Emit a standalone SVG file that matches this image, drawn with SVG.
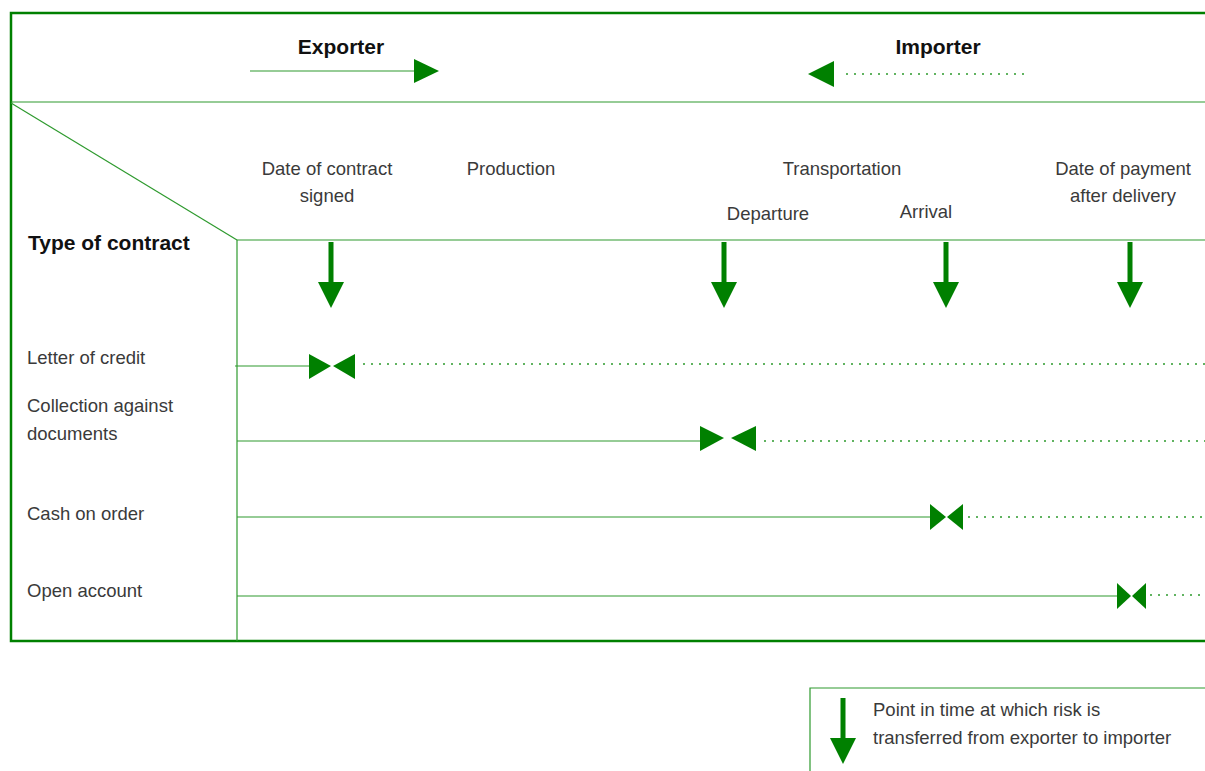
<svg xmlns="http://www.w3.org/2000/svg" width="1205" height="771" viewBox="0 0 1205 771">
<style>
.t{font-family:"Liberation Sans",Arial,sans-serif;font-size:18.5px;fill:#3a3a3a;}
.b{font-family:"Liberation Sans",Arial,sans-serif;font-size:21px;font-weight:bold;fill:#111;}
.thick{stroke:#008000;stroke-width:2.5;fill:none;}
.thin{stroke:#2e9a2e;stroke-width:1.2;fill:none;}
.dot{stroke:#2e9a2e;stroke-width:1.3;stroke-dasharray:2 6;fill:none;}
.g{fill:#008000;}
</style>
<defs>
<g id="down"><rect x="-2.5" y="0" width="5" height="42" class="g"/><polygon points="-13,40 13,40 0,66" class="g"/></g>
</defs>
<g id="frame">
<polyline class="thick" points="1205,13 11,13 11,641 1205,641"/>
<line class="thin" x1="11" y1="102" x2="1205" y2="102"/>
<line class="thin" x1="11" y1="103" x2="237" y2="240"/>
<line class="thin" x1="237" y1="240" x2="1205" y2="240"/>
<line class="thin" x1="237" y1="240" x2="237" y2="641"/>
</g>
<g id="header">
<text class="b" x="341" y="54" text-anchor="middle">Exporter</text>
<line class="thin" x1="250" y1="71" x2="416" y2="71"/>
<polygon class="g" points="414,59 414,83 439,71"/>
<text class="b" x="938" y="54" text-anchor="middle">Importer</text>
<polygon class="g" points="834,61 834,87 808,74"/>
<line class="dot" x1="846" y1="74" x2="1030" y2="74"/>
</g>
<g id="columns">
<text class="t" x="327" y="175" text-anchor="middle">Date of contract</text>
<text class="t" x="327" y="202" text-anchor="middle">signed</text>
<text class="t" x="511" y="175" text-anchor="middle">Production</text>
<text class="t" x="842" y="175" text-anchor="middle">Transportation</text>
<text class="t" x="768" y="220" text-anchor="middle">Departure</text>
<text class="t" x="926" y="218" text-anchor="middle">Arrival</text>
<text class="t" x="1123" y="175" text-anchor="middle">Date of payment</text>
<text class="t" x="1123" y="202" text-anchor="middle">after delivery</text>
<text class="b" x="28" y="250">Type of contract</text>
</g>
<g id="risk-arrows">
<use href="#down" x="331" y="242"/>
<use href="#down" x="724" y="242"/>
<use href="#down" x="946" y="242"/>
<use href="#down" x="1130" y="242"/>
</g>
<g id="row-lc">
<text class="t" x="27" y="364">Letter of credit</text>
</g>
<g id="row-cad">
<text class="t" x="27" y="412">Collection against</text>
<text class="t" x="27" y="440">documents</text>
</g>
<g id="row-coo">
<text class="t" x="27" y="520">Cash on order</text>
</g>
<g id="row-oa">
<text class="t" x="27" y="597">Open account</text>
</g>
<g id="connectors">
<line class="thin" x1="235" y1="366" x2="309" y2="366"/>
<polygon class="g" points="309,354 309,379 331,366"/>
<polygon class="g" points="355,354 355,379 333,366"/>
<line class="dot" x1="363" y1="364" x2="1205" y2="364"/>

<line class="thin" x1="237" y1="441" x2="700" y2="441"/>
<polygon class="g" points="700,426 700,451 724,438"/>
<polygon class="g" points="756,426 756,451 731,438"/>
<line class="dot" x1="764" y1="441" x2="1205" y2="441"/>

<line class="thin" x1="237" y1="517" x2="931" y2="517"/>
<polygon class="g" points="930,504 930,530 946,517"/>
<polygon class="g" points="963,504 963,530 947,517"/>
<line class="dot" x1="968" y1="517" x2="1205" y2="517"/>

<line class="thin" x1="237" y1="596" x2="1118" y2="596"/>
<polygon class="g" points="1117,583 1117,609 1131,596"/>
<polygon class="g" points="1146,583 1146,609 1132,596"/>
<line class="dot" x1="1150" y1="595" x2="1202" y2="595"/>
</g>
<g id="legend">
<polyline class="thin" points="810,771 810,688 1205,688"/>
<use href="#down" x="843" y="698"/>
<text class="t" x="873" y="716">Point in time at which risk is</text>
<text class="t" x="873" y="744">transferred from exporter to importer</text>
</g>
</svg>
